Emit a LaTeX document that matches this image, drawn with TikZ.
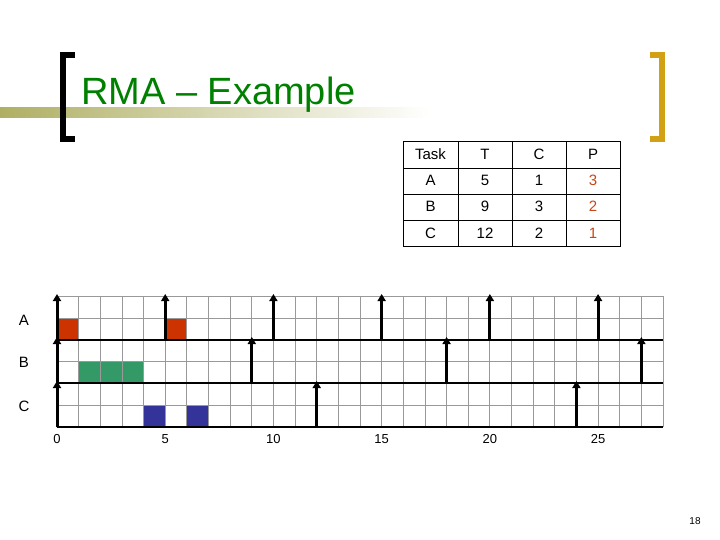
\documentclass[tikz,border=0pt]{standalone}
\usepackage{fontspec}
\setmainfont{Liberation Sans}
\usetikzlibrary{arrows.meta}
\definecolor{ttl}{RGB}{0,128,0}
\definecolor{olv}{RGB}{175,175,100}
\definecolor{gld}{RGB}{210,160,20}
\definecolor{pcol}{RGB}{200,70,20}
\definecolor{ta}{RGB}{204,51,0}
\definecolor{tb}{RGB}{51,153,102}
\definecolor{tc}{RGB}{51,51,153}
\begin{document}
\begin{tikzpicture}[x=1pt,y=-1pt,
  cell/.style={font=\fontsize{15}{15}\selectfont},
  lbl/.style={font=\fontsize{15}{15}\selectfont},
  rel/.style={line width=3pt,-{Triangle[length=7pt,width=8pt]}},
  base/.style={line width=2.5pt}]
\useasboundingbox (0,0) rectangle (720,540);
% title band
\shade[left color=olv,right color=white] (0,108) rectangle (430,118);
\fill[black] (60,52) rectangle (66,142);
\fill[black] (60,52) rectangle (75,58);
\fill[black] (60,136) rectangle (75,142);
\fill[gld] (659,52) rectangle (665,142);
\fill[gld] (650,52) rectangle (665,58);
\fill[gld] (650,136) rectangle (665,142);
\node[anchor=base west,text=ttl,font=\fontsize{38}{38}\selectfont,inner sep=0] (title) at (81,105) {RMA – Example};
% table
\draw[black,line width=0.8pt] (403,141) rectangle (620,246);
\foreach \y in {168,194,220} \draw[line width=0.8pt] (403,\y) -- (620,\y);
\foreach \x in {458,512,566} \draw[line width=0.8pt] (\x,141) -- (\x,246);
\foreach \t/\T/\C/\P [count=\i] in {Task/T/C/P,A/5/1/3,B/9/3/2,C/12/2/1}{
  \pgfmathsetmacro{\yy}{141+(\i-0.5)*26.25}
  \node[cell] (t\i a) at (430.5,\yy) {\t};
  \node[cell] (t\i b) at (485,\yy) {\T};
  \node[cell] (t\i c) at (539,\yy) {\C};
  \ifnum\i=1 \node[cell] (t\i d) at (593,\yy) {\P};
  \else \node[cell,text=pcol] (t\i d) at (593,\yy) {\P}; \fi
}
% task boxes
\def\u{21.643}
\fill[ta] (57,318) rectangle ({57+\u},340);
\fill[ta] ({57+5*\u},318) rectangle ({57+6*\u},340);
\fill[tb] ({57+\u},361.5) rectangle ({57+4*\u},383);
\fill[tc] ({57+4*\u},405) rectangle ({57+5*\u},427);
\fill[tc] ({57+6*\u},405) rectangle ({57+7*\u},427);
% grid
\foreach \i in {0,...,28} \draw[gray!80,line width=0.8pt] ({57+\i*\u},296) -- ({57+\i*\u},427);
\foreach \y in {296,318,361.5,405} \draw[gray!80,line width=0.8pt] (57,\y) -- (663,\y);
\foreach \y in {340,383,427} \draw[base] (57,\y) -- (663,\y);
% arrows
\foreach \k in {0,5,10,15,20,25} {\coordinate (a\k) at ({57+\k*\u},340); \coordinate (ae\k) at ({57+\k*\u},294); \draw[rel] (a\k) -- (ae\k);}
\foreach \k in {0,9,18,27} {\coordinate (b\k) at ({57+\k*\u},383); \coordinate (be\k) at ({57+\k*\u},337); \draw[rel] (b\k) -- (be\k);}
\foreach \k in {0,12,24} {\coordinate (c\k) at ({57+\k*\u},427); \coordinate (ce\k) at ({57+\k*\u},381); \draw[rel] (c\k) -- (ce\k);}
% labels
\node[lbl] (la) at (24,320) {A};
\node[lbl] (lb) at (24,362) {B};
\node[lbl] (lc) at (24,406) {C};
\foreach \k in {0,5,10,15,20,25} \node[font=\fontsize{13}{13}\selectfont] (n\k) at ({57+\k*\u},439) {\k};
\node[font=\fontsize{10}{10}\selectfont] (pg) at (695,521) {18};
\end{tikzpicture}
\end{document}
